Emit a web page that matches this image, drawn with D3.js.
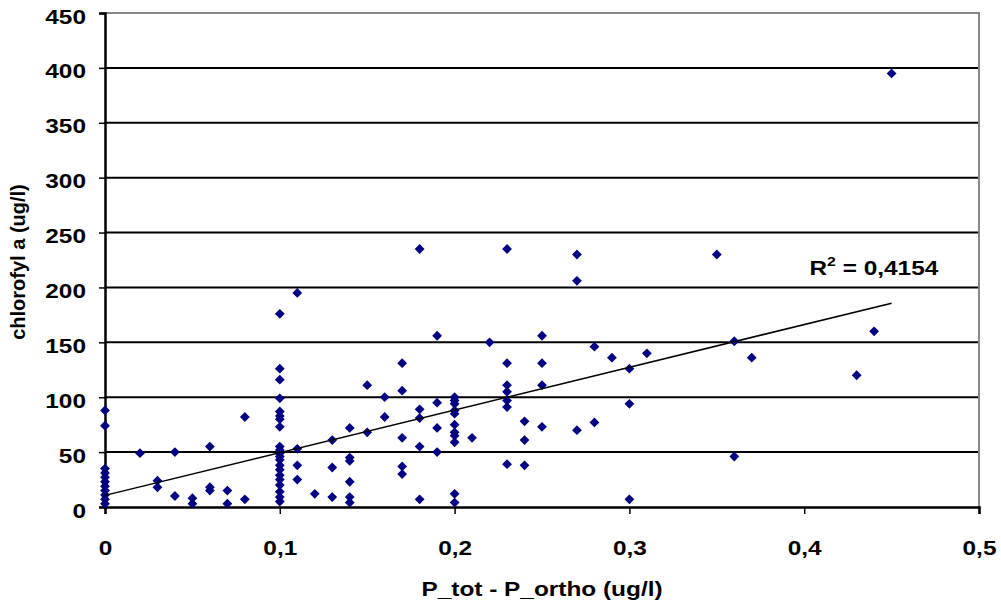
<!DOCTYPE html>
<html>
<head>
<meta charset="utf-8">
<script src="https://cdn.jsdelivr.net/npm/d3@7"></script>
<style>
  body { margin: 0; background: #fff; }
  svg text { font-family: "Liberation Sans", Arial, sans-serif; font-weight: bold; fill: #000; }
</style>
</head>
<body>
<svg width="1001" height="613"></svg>
<script>
// P_tot - P_ortho (x) and chlorofyl a (y)
const pDiff = [
  0, 0, 0, 0, 0, 0, 0, 0, 0, 0, 0,
  0.02, 0.03, 0.03, 0.04, 0.04, 0.05, 0.05, 0.06, 0.06, 0.06, 0.07, 0.07, 0.08, 0.08,
  0.1, 0.1, 0.1, 0.1, 0.1, 0.1, 0.1, 0.1, 0.1, 0.1, 0.1, 0.1, 0.1, 0.1, 0.1, 0.1, 0.1, 0.1, 0.1, 0.1, 0.1,
  0.11, 0.11, 0.11, 0.11, 0.12, 0.13, 0.13, 0.13,
  0.14, 0.14, 0.14, 0.14, 0.14, 0.14, 0.15, 0.15, 0.16, 0.16,
  0.17, 0.17, 0.17, 0.17, 0.17, 0.18, 0.18, 0.18, 0.18, 0.18,
  0.19, 0.19, 0.19, 0.19,
  0.2, 0.2, 0.2, 0.2, 0.2, 0.2, 0.2, 0.2, 0.2, 0.2, 0.2,
  0.21, 0.22, 0.23, 0.23, 0.23, 0.23, 0.23, 0.23, 0.23,
  0.24, 0.24, 0.24, 0.25, 0.25, 0.25, 0.25,
  0.27, 0.27, 0.27, 0.28, 0.28, 0.29, 0.3, 0.3, 0.3, 0.31,
  0.35, 0.36, 0.36, 0.37, 0.43, 0.44, 0.45
];
const chlA = [
  88, 74, 35, 31, 27, 23, 19, 15, 11, 7, 3,
  49, 24, 18, 50, 10, 8, 3, 55, 18, 15, 15, 3, 82, 7,
  176, 126, 116, 99, 87, 83, 80, 73, 55, 52, 49, 46, 43, 38, 34, 29, 25, 20, 14, 9, 5,
  195, 53, 38, 25, 12, 61, 36, 9,
  72, 45, 42, 23, 9, 4, 111, 68, 100, 82,
  131, 106, 63, 37, 30, 235, 89, 81, 55, 7,
  156, 95, 72, 50,
  100, 97, 94, 88, 85, 75, 68, 65, 59, 12, 4,
  63, 150, 235, 131, 111, 105, 97, 91, 39,
  78, 61, 38, 156, 131, 111, 73,
  230, 206, 70, 146, 77, 136, 126, 94, 7, 140,
  230, 151, 46, 136, 120, 160, 395
];
const xTicks = [0, 0.1, 0.2, 0.3, 0.4, 0.5];
const yTicks = [0, 50, 100, 150, 200, 250, 300, 350, 400, 450];
// linear trend line as drawn in the picture
const trendIntercept = 10.6;
const trendSlope = 389;
const trendRange = [0, 0.45];
const rSquared = '0,4154';

const points = pDiff.map((x, i) => ({ x: x, y: chlA[i] }));

const svg = d3.select('svg');
const margin = { left: 105, right: 22, top: 13, bottom: 106 };
const width = +svg.attr('width');
const height = +svg.attr('height');
const innerWidth = width - margin.left - margin.right;
const innerHeight = height - margin.top - margin.bottom;
const stretch = 1.22; // the original text is wider than Arial

const g = svg.append('g')
  .attr('transform', `translate(${margin.left},${margin.top})`);

const xScale = d3.scaleLinear().domain([0, 0.5]).range([0, innerWidth]);
const yScale = d3.scaleLinear().domain([0, 450]).range([innerHeight, 0]);

const fmt = d => String(d).replace('.', ',');

// gridlines
g.append('g').selectAll('line')
  .data(yTicks.filter(t => t > 0 && t < 450))
  .join('line')
  .attr('x1', 0).attr('x2', innerWidth)
  .attr('y1', d => yScale(d)).attr('y2', d => yScale(d))
  .attr('stroke', '#000').attr('stroke-width', 2);

// plot area border (top and right, grey)
g.append('path')
  .attr('d', `M0,0H${innerWidth}V${innerHeight}`)
  .attr('fill', 'none').attr('stroke', '#888').attr('stroke-width', 2);

const xAxis = d3.axisBottom(xScale).tickValues(xTicks).tickFormat(fmt)
  .tickSize(7).tickPadding(27);
const yAxis = d3.axisLeft(yScale).tickValues(yTicks).tickFormat(d => d)
  .tickSize(6).tickPadding(13);

const xAxisG = g.append('g')
  .attr('transform', `translate(0,${innerHeight})`)
  .call(xAxis);
const yAxisG = g.append('g').call(yAxis);

[xAxisG, yAxisG].forEach(a => {
  a.select('.domain').attr('stroke', '#000').attr('stroke-width', 2.5);
  a.selectAll('.tick line').attr('stroke', '#000').attr('stroke-width', 1.5);
  a.selectAll('.tick text').style('font-size', '20px').attr('fill', '#000');
});
xAxisG.selectAll('.tick text')
  .attr('transform', function () {
    return `translate(0,${d3.select(this).attr('y')}) scale(${stretch},1)`;
  })
  .attr('y', 0);
yAxisG.selectAll('.tick text')
  .attr('transform', function () {
    return `translate(${d3.select(this).attr('x')},0) scale(${stretch},1)`;
  })
  .attr('x', 0)
  .attr('dy', '0.5em');

// points
g.append('g').selectAll('path')
  .data(points)
  .join('path')
  .attr('d', d3.symbol().type(d3.symbolSquare).size(48))
  .attr('transform', d => `translate(${xScale(d.x)},${yScale(d.y)}) rotate(45)`)
  .attr('fill', '#000080');

// trend line
const line = d3.line()
  .x(d => xScale(d))
  .y(d => yScale(trendIntercept + trendSlope * d));
g.append('path')
  .attr('d', line(trendRange))
  .attr('fill', 'none').attr('stroke', '#000').attr('stroke-width', 1.5);

// R² label
const rText = g.append('text')
  .attr('transform', `translate(${xScale(0.403)},${yScale(211)}) scale(${stretch},1)`)
  .style('font-size', '20px');
rText.append('tspan').text('R');
rText.append('tspan').attr('dy', -9).style('font-size', '13px').text('2');
rText.append('tspan').attr('dy', 9).text(' = ' + rSquared);

// axis titles
svg.append('text')
  .attr('transform', `translate(${margin.left + innerWidth / 2},596) scale(${stretch},1)`)
  .attr('text-anchor', 'middle')
  .style('font-size', '20px')
  .text('P_tot - P_ortho (ug/l)');

svg.append('text')
  .attr('transform', `translate(25,${margin.top + innerHeight / 2 + 2}) rotate(-90)`)
  .attr('text-anchor', 'middle')
  .style('font-size', '20px')
  .text('chlorofyl a (ug/l)');
</script>
</body>
</html>
